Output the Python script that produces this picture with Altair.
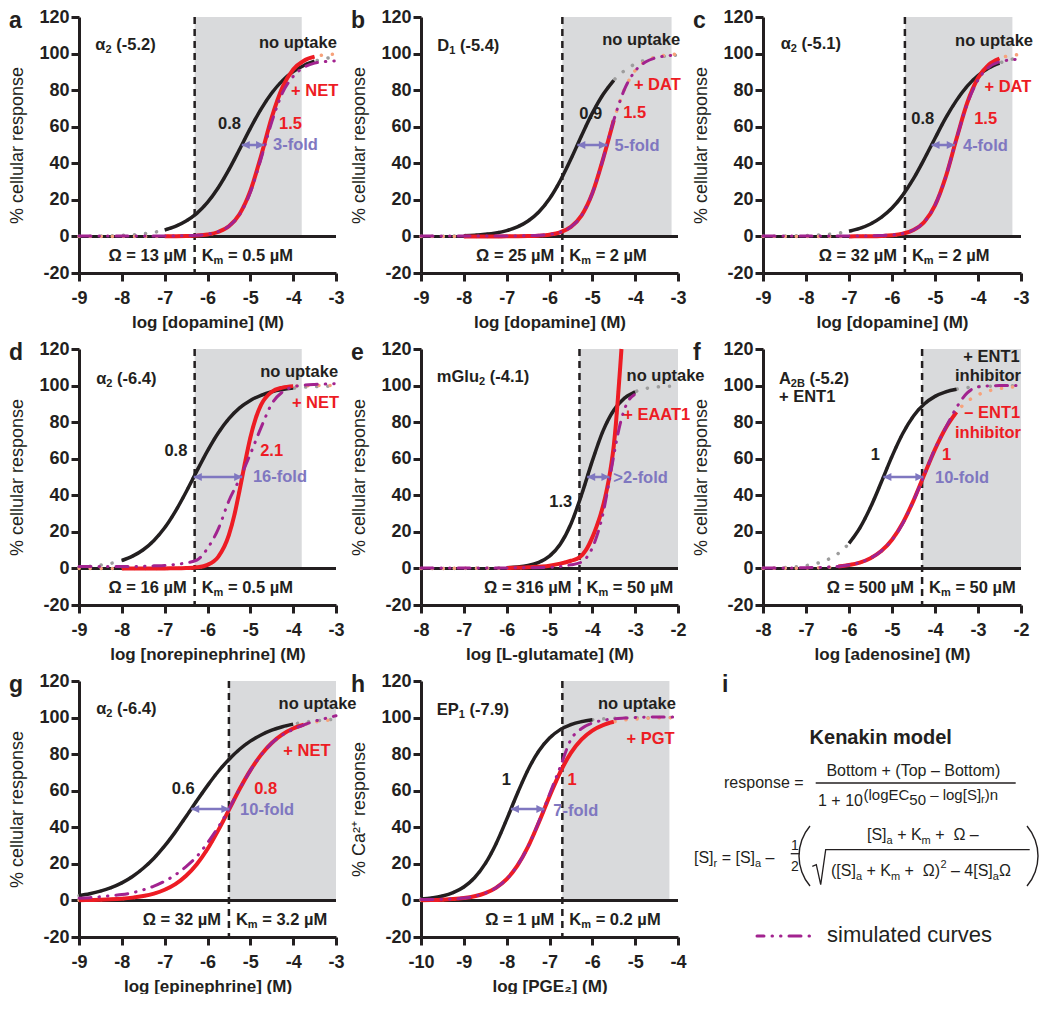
import altair as alt
import pandas as pd

FONT = "Liberation Sans"
INK = "#231f20"
RED = "#ed1c24"
PURPLE = "#a2238f"
LAV = "#7f77c0"
DOTGRAY = "#9d9d9d"
SALMON = "#f7a27b"
SHADE = "#d9dadc"
FS = 16.5
PANEL_H = 256

# ---------------- x grids (log M) ----------------
X_9_3 = [-9, -8.75, -8.5, -8.25, -8, -7.75, -7.5, -7.25, -7, -6.75, -6.5, -6.25,
         -6, -5.75, -5.5, -5.25, -5, -4.75, -4.5, -4.25, -4, -3.75, -3.5, -3.25, -3]
X_8_2 = [-8, -7.75, -7.5, -7.25, -7, -6.75, -6.5, -6.25, -6, -5.75, -5.5, -5.25,
         -5, -4.75, -4.5, -4.25, -4, -3.75, -3.5, -3.25, -3, -2.75, -2.5, -2.25, -2]
X_10_4 = [-10, -9.75, -9.5, -9.25, -9, -8.75, -8.5, -8.25, -8, -7.75, -7.5, -7.25,
          -7, -6.75, -6.5, -6.25, -6, -5.75, -5.5, -5.25, -5, -4.75, -4.5, -4.25, -4]

# ---------------- panel a ----------------
A_BLACK = [0.09, 0.14, 0.23, 0.36, 0.57, 0.9, 1.43, 2.25, 3.5, 5.45, 8.4, 12.6, 18.6, 26.6,
           36.5, 47.7, 59.1, 69.6, 78.4, 85.2, 90.1, 93.5, 95.8, 97.3, 98.3]
A_RED = [0, 0, 0, 0, 0, 0, 0.01, 0.01, 0.03, 0.08, 0.19, 0.44, 1.04, 2.42, 5.56, 12.3,
         24.9, 44.0, 65.1, 81.5, 91.3, 96.1, 98.3, 99.3, 99.7]
A_PURPLE = [0.3, 0.3, 0.3, 0.3, 0.3, 0.3, 0.3, 0.3, 0.3, 0.3, 0.4, 0.6, 1.2, 2.6, 5.6, 12,
            24, 42.5, 62.5, 78.5, 87.5, 92.5, 94.8, 95.6, 96]
# ---------------- panel b ----------------
B_BLACK = [0.05, 0.09, 0.15, 0.25, 0.41, 0.69, 1.15, 1.91, 3.17, 5.2, 8.45, 13.4, 20.6, 30.4,
           42.3, 55.2, 67.4, 77.6, 85.4, 90.7, 94.3, 96.5, 97.9, 98.7, 99.2]
B_RED = [0, 0, 0, 0, 0, 0, 0, 0.01, 0.03, 0.07, 0.17, 0.41, 0.97, 2.26, 5.2, 11.5, 23.6,
         42.3, 63.5, 80.4, 90.7, 95.9, 98.2, 99.2, 99.7]
B_PURPLE = [0.3, 0.3, 0.3, 0.3, 0.3, 0.3, 0.3, 0.3, 0.3, 0.3, 0.4, 0.6, 1.1, 2.3, 5.2, 11.5,
            23.6, 42.3, 63.5, 80.4, 90.5, 95.5, 97.8, 98.8, 99.3]
# ---------------- panel c ----------------
C_BLACK = [0.07, 0.12, 0.18, 0.29, 0.46, 0.73, 1.15, 1.8, 2.83, 4.4, 6.8, 10.4, 15.5, 22.6,
           31.6, 42.3, 53.7, 64.8, 74.4, 82.2, 88.0, 92.1, 94.8, 96.7, 97.9]
C_RED = [0, 0, 0, 0, 0, 0, 0, 0.01, 0.02, 0.05, 0.11, 0.27, 0.64, 1.51, 3.5, 7.9, 17.0,
         32.6, 53.4, 73.1, 86.6, 93.9, 97.3, 98.9, 99.5]
C_PURPLE = [0.3, 0.3, 0.3, 0.3, 0.3, 0.3, 0.3, 0.3, 0.3, 0.3, 0.3, 0.5, 0.8, 1.6, 3.5, 7.9,
            17.0, 32.6, 53.4, 72.5, 85.5, 92.5, 95.5, 96.5, 97.0]
# ---------------- panel d ----------------
D_BLACK = [0.71, 1.12, 1.77, 2.78, 4.33, 6.7, 10.2, 15.3, 22.2, 31.2, 41.8, 53.2, 64.3, 74.1,
           81.9, 87.8, 91.9, 94.7, 96.6, 97.8, 98.6, 99.1, 99.4, 99.65, 99.8]
D_RED_X = [-9, -8.5, -8, -7.5, -7, -6.75, -6.5, -6.25, -6, -5.75, -5.5, -5.375, -5.25,
           -5.125, -5, -4.875, -4.75, -4.5, -4.25, -4, -3.75, -3.5, -3.25, -3]
D_RED = [0, 0, 0, 0, 0.02, 0.05, 0.18, 0.59, 1.95, 6.3, 18.3, 29.0, 42.8, 57.8, 71.5, 82.1,
         89.4, 96.6, 98.9, 99.7, 99.9, 100, 100, 100]
D_PURPLE = [1, 1, 1, 1, 1, 1, 1.2, 1.4, 1.6, 2.2, 3, 4.5, 11, 21.5, 37, 49, 62.5, 77, 90,
            96.5, 99.3, 100.2, 100.6, 100.8, 101]
# ---------------- panel e ----------------
E_BLACK = [0, 0, 0, 0, 0.02, 0.04, 0.08, 0.17, 0.36, 0.75, 1.58, 3.3, 6.7, 13.2, 24.3, 40.4,
           58.8, 75.2, 86.5, 93.1, 96.6, 98.4, 99.2, 99.6, 99.8]
E_RED_X = [-8, -7, -6, -5.5, -5, -4.75, -4.5, -4.3, -4.15, -4.0, -3.9, -3.8, -3.7, -3.62,
           -3.55, -3.5, -3.45, -3.4, -3.35, -3.32]
E_RED = [0, 0.05, 0.2, 0.6, 1.5, 2.6, 4.2, 6, 10, 17, 23, 30, 39, 48, 58, 67, 79, 94, 110, 120]
E_PURPLE_X = [-8, -7, -6, -5, -4.5, -4.3, -4.1, -3.95, -3.85, -3.75, -3.65, -3.55, -3.45,
              -3.35, -3.25, -3.15, -3.02]
E_PURPLE = [0.3, 0.3, 0.3, 0.6, 2, 3, 7, 14, 21, 30, 42, 55, 68, 79, 87, 92, 95]
# ---------------- panel f ----------------
F_BLACK = [0.16, 0.28, 0.5, 0.88, 1.56, 2.74, 4.77, 8.2, 13.7, 22.0, 33.4, 47.1, 61.3, 73.8,
           83.4, 89.9, 94.1, 96.6, 98.0, 98.9, 99.4, 99.6, 99.8, 99.9, 100]
F_RED = [0.02, 0.03, 0.06, 0.1, 0.19, 0.33, 0.59, 1.04, 1.83, 3.2, 5.6, 9.5, 15.7, 24.9, 37.1,
         51.2, 65.1, 76.8, 85.5, 91.3, 94.9, 97.1, 98.3, 99.1, 99.5]
F_PURPLE = [0.3, 0.3, 0.3, 0.3, 0.4, 0.5, 0.7, 1.1, 1.9, 3.2, 5.6, 9.5, 15.5, 24.5, 37, 51,
            65.5, 77, 88, 96, 99.3, 99.8, 100, 100, 100]
# ---------------- panel g ----------------
G_BLACK = [2.61, 3.65, 5.07, 7.0, 9.6, 13.1, 17.6, 23.1, 29.8, 37.5, 45.9, 54.5, 62.8, 70.5,
           77.1, 82.7, 87.1, 90.5, 93.1, 95.0, 96.4, 97.4, 98.2, 98.7, 99.1]
G_RED = [0.16, 0.25, 0.39, 0.62, 0.97, 1.53, 2.41, 3.76, 5.83, 8.9, 13.5, 19.8, 28.1, 38.3,
         49.5, 60.9, 71.1, 79.6, 86.1, 90.8, 94.0, 96.1, 97.5, 98.4, 99.0]
G_PURPLE = [1.2, 1.5, 2, 2.6, 3.2, 4.2, 5.8, 7.8, 10.5, 14, 18.5, 24, 31.5, 40, 50, 61, 71,
            79.5, 86, 90.5, 93.5, 96, 98, 99.5, 101]
# ---------------- panel h ----------------
H_BLACK = [0.79, 1.39, 2.45, 4.28, 7.36, 12.4, 20.1, 30.9, 44.3, 58.5, 71.5, 81.7, 88.8, 93.4,
           96.2, 97.8, 98.8, 99.3, 99.6, 99.8, 99.9, 99.9, 100, 100, 100]
H_RED = [0.13, 0.23, 0.42, 0.74, 1.3, 2.29, 4.0, 6.9, 11.6, 19.0, 29.4, 42.6, 56.9, 70.1, 80.7,
         88.1, 92.9, 95.9, 97.7, 98.7, 99.2, 99.6, 99.8, 99.9, 99.9]
H_PURPLE = [0.5, 0.5, 0.6, 0.8, 1.3, 2.3, 4.0, 6.9, 11.6, 19.0, 29.4, 43, 58, 73, 88, 94, 97,
            98.5, 99.3, 99.7, 100, 100.2, 100.3, 100.3, 100.3]

# solid (fitted) stretches of the black / red curves
SOLID_BLACK = {"a": (-7, -3.5), "b": (-8, -4.5), "c": (-7, -3.5), "d": (-8, -4),
               "e": (-6, -3), "f": (-6, -3.5), "g": (-9, -4), "h": (-10, -6)}
SOLID_RED = {"a": (-7, -3.5), "b": (-8, -4.5), "c": (-7, -3.5), "d": (-8, -4),
             "e": (-6, -3.32), "f": (-6.25, -3.5), "g": (-9, -3.75), "h": (-10, -5.5)}
KM_LINE = {"a": -6.3, "b": -5.7, "c": -5.7, "d": -6.3, "e": -4.3, "f": -4.3, "g": -5.5, "h": -6.7}
SHADE_END = {"a": -3.8, "b": -3.15, "c": -3.2, "d": -3.8, "e": -2, "f": -2, "g": -3, "h": -4.2}
ARROWS = {"a": (-5.2, -4.68), "b": (-5.35, -4.66), "c": (-5.08, -4.54), "d": (-6.32, -5.19),
          "e": (-4.12, -3.6), "f": (-5.2, -4.27), "g": (-6.38, -5.49), "h": (-7.9, -7.12)}
OMEGA = {"a": "Ω = 13 µM", "b": "Ω = 25 µM", "c": "Ω = 32 µM", "d": "Ω = 16 µM",
         "e": "Ω = 316 µM", "f": "Ω = 500 µM", "g": "Ω = 32 µM", "h": "Ω = 1 µM"}
KM_TEXT = {"a": " = 0.5 µM", "b": " = 2 µM", "c": " = 2 µM", "d": " = 0.5 µM",
           "e": " = 50 µM", "f": " = 50 µM", "g": " = 3.2 µM", "h": " = 0.2 µM"}
X_TITLES = {"a": "log [dopamine] (M)", "b": "log [dopamine] (M)", "c": "log [dopamine] (M)",
            "d": "log [norepinephrine] (M)", "e": "log [L-glutamate] (M)",
            "f": "log [adenosine] (M)", "g": "log [epinephrine] (M)", "h": "log [PGE₂] (M)"}
RECEPTOR = {
    "a": ([("α", FS, 0), ("2", 11, 5), (" (-5.2)", FS, 0)], (-8.62, 104.6)),
    "b": ([("D", FS, 0), ("1", 11, 5), (" (-5.4)", FS, 0)], (-8.62, 104.4)),
    "c": ([("α", FS, 0), ("2", 11, 5), (" (-5.1)", FS, 0)], (-8.59, 105.3)),
    "d": ([("α", FS, 0), ("2", 11, 5), (" (-6.4)", FS, 0)], (-8.6, 103.8)),
    "e": ([("mGlu", FS, 0), ("2", 11, 5), (" (-4.1)", FS, 0)], (-7.63, 104.8)),
    "f": ([("A", FS, 0), ("2B", 11, 5), (" (-5.2)", FS, 0)], (-7.63, 103.8)),
    "g": ([("α", FS, 0), ("2", 11, 5), (" (-6.4)", FS, 0)], (-8.6, 104.7)),
    "h": ([("EP", FS, 0), ("1", 11, 5), (" (-7.9)", FS, 0)], (-9.63, 104.2)),
}
ANNOT = {
    "a": [("no uptake", -2.98, 106, "right", INK), ("+ NET", -4.05, 79.6, "left", RED),
          ("1.5", -4.33, 61.5, "left", RED), ("0.8", -5.22, 61.5, "right", INK),
          ("3-fold", -4.47, 49.9, "left", LAV)],
    "b": [("no uptake", -2.95, 107.5, "right", INK), ("+ DAT", -4.03, 82.9, "left", RED),
          ("1.5", -4.28, 67.6, "left", RED), ("0.9", -4.77, 66.7, "right", INK),
          ("5-fold", -4.48, 49.7, "left", LAV)],
    "c": [("no uptake", -2.72, 106.7, "right", INK), ("+ DAT", -3.85, 81.6, "left", RED),
          ("1.5", -4.09, 64.3, "left", RED), ("0.8", -5.02, 64.3, "right", INK),
          ("4-fold", -4.35, 49.6, "left", LAV)],
    "d": [("no uptake", -2.95, 107.4, "right", INK), ("+ NET", -4.03, 90.3, "left", RED),
          ("2.1", -4.77, 64.2, "left", RED), ("0.8", -6.47, 64, "right", INK),
          ("16-fold", -4.94, 50, "left", LAV)],
    "e": [("no uptake", -3.2, 105, "left", INK), ("+ EAAT1", -3.28, 83.7, "left", RED),
          ("1.3", -4.47, 36.3, "right", INK), (">2-fold", -3.51, 49.6, "left", LAV)],
    "f": [("+ ENT1", -7.63, 93.8, "left", INK), ("+ ENT1", -2.03, 115.5, "right", INK),
          ("inhibitor", -2.0, 105, "right", INK), ("– ENT1", -2.02, 84.8, "right", RED),
          ("inhibitor", -2.0, 74, "right", RED), ("1", -5.39, 62.3, "center", INK),
          ("1", -3.73, 62, "center", RED), ("10-fold", -4.0, 49.7, "left", LAV)],
    "g": [("no uptake", -4.34, 107.4, "left", INK), ("+ NET", -4.23, 81.7, "left", RED),
          ("0.8", -4.91, 61.2, "left", RED), ("0.6", -6.3, 61, "right", INK),
          ("10-fold", -5.24, 49.3, "left", LAV)],
    "h": [("no uptake", -4.05, 107.4, "right", INK), ("+ PGT", -4.08, 88.4, "right", RED),
          ("1", -8.01, 65.6, "center", INK), ("1", -6.47, 65.6, "center", RED),
          ("7-fold", -6.91, 49, "left", LAV)],
}

# Arial / Liberation Sans advance widths (per 1000 em), used to place sub/superscripts
W_BOLD = {" ": 278, "(": 333, ")": 333, "+": 584, "-": 333, ".": 278, "=": 584,
          "A": 722, "B": 722, "D": 722, "E": 667, "G": 778, "K": 722, "M": 833, "P": 667,
          "l": 278, "m": 889, "u": 611, "α": 620, "µ": 611, "Ω": 768}
W_REG = {" ": 278, "(": 333, ")": 333, "+": 584, "=": 584, "[": 278, "]": 278, "–": 556,
         "B": 667, "C": 722, "E": 667, "K": 667, "S": 667, "T": 611, "a": 556, "c": 500,
         "d": 556, "e": 556, "g": 556, "i": 222, "l": 222, "m": 833, "n": 556, "o": 556,
         "p": 556, "r": 333, "s": 500, "t": 278, "u": 556, "v": 500, "Ω": 768}


def tw(s, fs, bold=True):
    table = W_BOLD if bold else W_REG
    return sum(table.get(ch, 556) for ch in s) * fs / 1000.0


def split_lead(text, fs, bold=True):
    """SVG drops leading blanks: strip them and return the width they stood for."""
    stripped = text.lstrip(" ")
    return stripped, tw(text[: len(text) - len(stripped)], fs, bold)


LABEL_EXPR = "datum.value < 0 ? '-' + abs(datum.value) : '' + datum.value"
NO_VIEW = alt.ViewBackground(stroke="transparent", strokeWidth=0)


def panel_letter(letter, dx):
    return (alt.Chart(pd.DataFrame({"t": [letter]}))
            .mark_text(align="left", baseline="alphabetic", fontSize=23, fontWeight="bold",
                       font=FONT, color=INK)
            .encode(x=alt.value(dx), y=alt.value(11), text="t:N"))


def panel_chart(key, xdom, width, bx, by, rx, ry, px, py, ytitle="% cellular response"):
    x0, x1 = xdom
    xs = alt.Scale(domain=[x0, x1], nice=False, zero=False)
    ys = alt.Scale(domain=[-20, 120], nice=False, zero=False)
    common = dict(grid=False, domainColor=INK, domainWidth=3, tickColor=INK, tickWidth=3,
                  tickSize=8, labelFont=FONT, labelFontSize=18, labelFontWeight="bold",
                  labelColor=INK, labelExpr=LABEL_EXPR, labelOverlap=False, labelFlush=False,
                  titleFont=FONT, titleColor=INK)
    xaxis = alt.Axis(values=list(range(x0, x1 + 1)), title=X_TITLES[key], labelPadding=8,
                     titlePadding=7, titleFontSize=17, titleFontWeight="bold", **common)
    yaxis = alt.Axis(values=[-20, 0, 20, 40, 60, 80, 100, 120], title=ytitle, labelPadding=2,
                     titlePadding=12, titleFontSize=18, titleFontWeight="normal", **common)

    def X(f):
        return alt.X(f, type="quantitative", scale=xs, axis=xaxis)

    def Y(f):
        return alt.Y(f, type="quantitative", scale=ys, axis=yaxis)

    km = KM_LINE[key]
    L = []
    L.append(alt.Chart(pd.DataFrame({"x": [km], "x2": [SHADE_END[key]], "y": [0], "y2": [120]}))
             .mark_rect(color=SHADE).encode(x=X("x"), x2="x2", y=Y("y"), y2="y2"))
    L.append(alt.Chart(pd.DataFrame({"y": [0]})).mark_rule(color=INK, strokeWidth=3)
             .encode(y=Y("y")))
    L.append(alt.Chart(pd.DataFrame({"x": [km]}))
             .mark_rule(color=INK, strokeWidth=2.5, strokeDash=[7, 5]).encode(x=X("x")))
    bdf = pd.DataFrame({"x": bx, "y": by})
    rdf = pd.DataFrame({"x": rx, "y": ry})
    pdf = pd.DataFrame({"x": px, "y": py})
    dot = dict(strokeWidth=3.5, strokeDash=[0.1, 11], strokeCap="round", interpolate="monotone")
    L.append(alt.Chart(bdf).mark_line(color=DOTGRAY, **dot).encode(x=X("x"), y=Y("y")))
    L.append(alt.Chart(rdf).mark_line(color=SALMON, **dot).encode(x=X("x"), y=Y("y")))
    lo, hi = SOLID_BLACK[key]
    L.append(alt.Chart(bdf).transform_filter((alt.datum.x >= lo - 1e-6) & (alt.datum.x <= hi + 1e-6))
             .mark_line(color=INK, strokeWidth=3.5, interpolate="monotone")
             .encode(x=X("x"), y=Y("y")))
    lo, hi = SOLID_RED[key]
    L.append(alt.Chart(rdf).transform_filter((alt.datum.x >= lo - 1e-6) & (alt.datum.x <= hi + 1e-6))
             .mark_line(color=RED, strokeWidth=4, interpolate="monotone")
             .encode(x=X("x"), y=Y("y")))
    L.append(alt.Chart(pdf).mark_line(color=PURPLE, strokeWidth=3, strokeCap="round",
                                      strokeDash=[12, 8, 0.5, 8, 0.5, 8], interpolate="monotone")
             .encode(x=X("x"), y=Y("y")))
    a, b = ARROWS[key]
    L.append(alt.Chart(pd.DataFrame({"x": [a], "x2": [b], "y": [50]}))
             .mark_rule(color=LAV, strokeWidth=2.5).encode(x=X("x"), x2="x2", y=Y("y")))
    L.append(alt.Chart(pd.DataFrame({"x": [a], "y": [50]}))
             .mark_point(shape="M0,0L2,-1L2,1Z", size=64, filled=True, color=LAV, opacity=1,
                         strokeWidth=0).encode(x=X("x"), y=Y("y")))
    L.append(alt.Chart(pd.DataFrame({"x": [b], "y": [50]}))
             .mark_point(shape="M0,0L-2,-1L-2,1Z", size=64, filled=True, color=LAV, opacity=1,
                         strokeWidth=0).encode(x=X("x"), y=Y("y")))

    ann = pd.DataFrame(ANNOT[key], columns=["t", "x", "y", "align", "c"])
    for al in ["left", "right", "center"]:
        sub = ann[ann["align"] == al]
        if len(sub):
            L.append(alt.Chart(sub).mark_text(align=al, baseline="middle", font=FONT, fontSize=FS,
                                              fontWeight="bold")
                     .encode(x=X("x"), y=Y("y"), text="t:N", color=alt.Color("c:N", scale=None)))

    def rich(parts, x, y, dx0):
        off = dx0
        df = pd.DataFrame({"x": [x], "y": [y]})
        for text, fs, dy in parts:
            body, lead = split_lead(text, fs)
            off += lead
            L.append(alt.Chart(df).mark_text(text=body, align="left", baseline="middle", dx=off,
                                             dy=dy, fontSize=fs, fontWeight="bold", font=FONT,
                                             color=INK)
                     .encode(x=X("x"), y=Y("y")))
            off += tw(body, fs)

    parts, (rx0, ry0) = RECEPTOR[key]
    rich(parts, rx0, ry0, 0)
    L.append(alt.Chart(pd.DataFrame({"x": [km], "y": [-10.8]}))
             .mark_text(text=OMEGA[key], align="right", baseline="middle", dx=-8, fontSize=FS,
                        fontWeight="bold", font=FONT, color=INK).encode(x=X("x"), y=Y("y")))
    rich([("K", FS, 0), ("m", 11, 5), (KM_TEXT[key], FS, 0)], km, -10.8, 7)
    L.append(panel_letter(key, -70))
    return alt.layer(*L).properties(width=width, height=PANEL_H, view=NO_VIEW)


def formula_panel():
    rows = []

    def comp(x, y, parts):
        off = x
        for text, fs, dy in parts:
            body, lead = split_lead(text, fs, bold=False)
            off += lead
            rows.append({"px": off, "py": y + dy, "t": body, "fs": fs})
            off += tw(body, fs, bold=False)

    comp(-39, 107, [("response =", 16, 0)])
    comp(63.4, 94.7, [("Bottom + (Top – Bottom)", 16, 0)])
    comp(55, 124.7, [("1 + 10", 16, 0)])
    comp(100.5, 124.7, [("(logEC", 15, -6), ("50", 15, -1), (" – log[S]", 15, -6),
                        ("r", 11, -3), (")n", 15, -6)])
    comp(-69, 182, [("[S]", 16, 0), ("r", 11, 4), (" = [S]", 16, 0), ("a", 11, 4), (" –", 16, 0)])
    comp(28.1, 168.7, [("1", 14, 0)])
    comp(28.1, 190.3, [("2", 14, 0)])
    comp(104, 158.7, [("[S]", 16, 0), ("a", 11, 4), (" + K", 16, 0), ("m", 11, 4),
                      (" + ", 16, 0), (" Ω –", 16, 0)])
    comp(68, 195.3, [("([S]", 16, 0), ("a", 11, 4), (" + K", 16, 0), ("m", 11, 4),
                     (" + ", 16, 0), (" Ω)", 16, 0), ("2", 11, -8), (" – 4[S]", 16, 0),
                     ("a", 11, 4), ("Ω", 16, 0)])
    comp(64, 261, [("simulated curves", 22, 0)])
    tdf = pd.DataFrame(rows)

    L = []
    L.append(alt.Chart(tdf).mark_text(align="left", baseline="alphabetic", font=FONT, color=INK)
             .encode(x=alt.X("px:Q", scale=None, axis=None), y=alt.Y("py:Q", scale=None, axis=None),
                     size=alt.Size("fs:Q", scale=None, legend=None), text="t:N"))
    bars = pd.DataFrame({"px": [52.7, 27.7], "px2": [252.7, 36.7], "py": [102, 172.7]})
    L.append(alt.Chart(bars).mark_rule(color=INK, strokeWidth=1.3)
             .encode(x=alt.X("px:Q", scale=None, axis=None), x2="px2:Q",
                     y=alt.Y("py:Q", scale=None, axis=None)))
    rad = pd.DataFrame({"px": [49.3, 53.3, 57.7, 62.7, 266.7],
                        "py": [185.3, 183.7, 203.7, 168.7, 168.7], "o": [0, 1, 2, 3, 4]})
    L.append(alt.Chart(rad).mark_line(color=INK, strokeWidth=1.3)
             .encode(x=alt.X("px:Q", scale=None, axis=None), y=alt.Y("py:Q", scale=None, axis=None),
                     order="o:Q"))
    one = pd.DataFrame({"k": [0]})
    L.append(alt.Chart(one).mark_arc(theta=4.009, theta2=5.415, innerRadius=45.7,
                                     outerRadius=47.1, color=INK)
             .encode(x=alt.value(82.4), y=alt.value(175)))
    L.append(alt.Chart(one).mark_arc(theta=0.868, theta2=2.274, innerRadius=45.7,
                                     outerRadius=47.1, color=INK)
             .encode(x=alt.value(228.6), y=alt.value(175)))
    L.append(alt.Chart(one).mark_text(text="Kenakin model", align="center", baseline="alphabetic",
                                      fontSize=20, fontWeight="bold", font=FONT, color=INK)
             .encode(x=alt.value(117.7), y=alt.value(62.7)))
    L.append(alt.Chart(one).mark_rule(color=PURPLE, strokeWidth=3, strokeCap="round",
                                      strokeDash=[12, 8, 0.5, 8, 0.5, 8], strokeDashOffset=5)
             .encode(x=alt.value(-6), x2=alt.value(48), y=alt.value(255)))
    L.append(panel_letter("i", -41))
    return alt.layer(*L).properties(width=259, height=PANEL_H, view=NO_VIEW)


pa = panel_chart("a", (-9, -3), 257, X_9_3, A_BLACK, X_9_3, A_RED, X_9_3, A_PURPLE)
pb = panel_chart("b", (-9, -3), 257, X_9_3, B_BLACK, X_9_3, B_RED, X_9_3, B_PURPLE)
pc = panel_chart("c", (-9, -3), 258, X_9_3, C_BLACK, X_9_3, C_RED, X_9_3, C_PURPLE)
pd_ = panel_chart("d", (-9, -3), 257, X_9_3, D_BLACK, D_RED_X, D_RED, X_9_3, D_PURPLE)
pe = panel_chart("e", (-8, -2), 257, X_8_2, E_BLACK, E_RED_X, E_RED, E_PURPLE_X, E_PURPLE)
pf = panel_chart("f", (-8, -2), 258, X_8_2, F_BLACK, X_8_2, F_RED, X_8_2, F_PURPLE)
pg = panel_chart("g", (-9, -3), 257, X_9_3, G_BLACK, X_9_3, G_RED, X_9_3, G_PURPLE)
ph = panel_chart("h", (-10, -4), 257, X_10_4, H_BLACK, X_10_4, H_RED, X_10_4, H_PURPLE,
                 ytitle="% Ca²⁺ response")
pi = formula_panel()

chart = (alt.concat(pa, pb, pc, pd_, pe, pf, pg, ph, pi, columns=3,
                    spacing={"row": 76, "column": 85}, bounds="flush")
         .properties(padding=0, background="white")
         .configure(font=FONT)
         .configure_view(strokeWidth=0, stroke="transparent"))

chart.save("out.html", embed_options={"renderer": "svg", "actions": False})
